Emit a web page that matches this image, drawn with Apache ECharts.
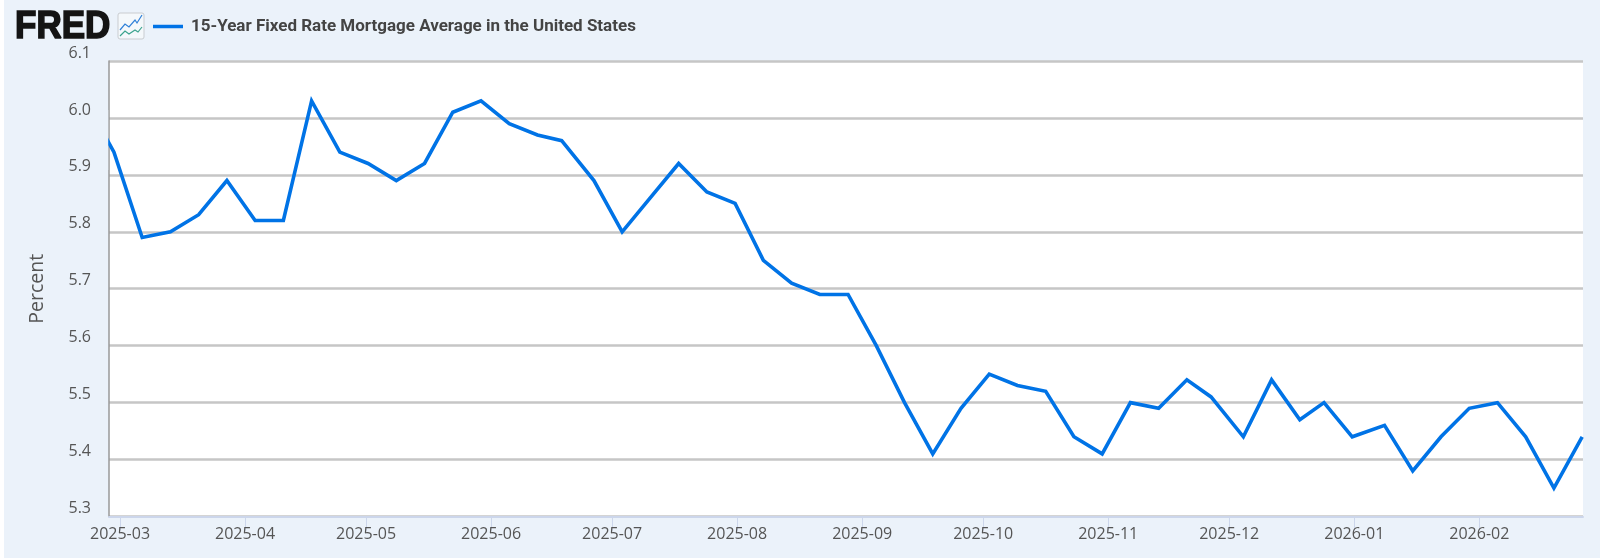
<!DOCTYPE html>
<html>
<head>
<meta charset="utf-8">
<style>html,body{margin:0;padding:0;background:#fff}#c{width:1600px;height:559px}</style>
<script src="https://cdn.jsdelivr.net/npm/echarts@6/dist/echarts.min.js"></script>
</head>
<body>
<div id="c"></div>
<script>
const seriesName = '15-Year Fixed Rate Mortgage Average in the United States';
const dates = [
 '2025-02-20','2025-02-27','2025-03-06','2025-03-13','2025-03-20','2025-03-27',
 '2025-04-03','2025-04-10','2025-04-17','2025-04-24','2025-05-01','2025-05-08',
 '2025-05-15','2025-05-22','2025-05-29','2025-06-05','2025-06-12','2025-06-18',
 '2025-06-26','2025-07-03','2025-07-10','2025-07-17','2025-07-24','2025-07-31',
 '2025-08-07','2025-08-14','2025-08-21','2025-08-28','2025-09-04','2025-09-11',
 '2025-09-18','2025-09-25','2025-10-02','2025-10-09','2025-10-16','2025-10-23',
 '2025-10-30','2025-11-06','2025-11-13','2025-11-20','2025-11-26','2025-12-04',
 '2025-12-11','2025-12-18','2025-12-24','2025-12-31','2026-01-08','2026-01-15',
 '2026-01-22','2026-01-29','2026-02-05','2026-02-12','2026-02-19','2026-02-26'
];
const rates = [
 6.03,5.94,5.79,5.80,5.83,5.89,
 5.82,5.82,6.03,5.94,5.92,5.89,
 5.92,6.01,6.03,5.99,5.97,5.96,
 5.89,5.80,5.86,5.92,5.87,5.85,
 5.75,5.71,5.69,5.69,5.60,5.50,
 5.41,5.49,5.55,5.53,5.52,5.44,
 5.41,5.50,5.49,5.54,5.51,5.44,
 5.54,5.47,5.50,5.44,5.46,5.38,
 5.44,5.49,5.50,5.44,5.35,5.44
];
const monthTicks = ['2025-03-01','2025-04-01','2025-05-01','2025-06-01','2025-07-01','2025-08-01',
 '2025-09-01','2025-10-01','2025-11-01','2025-12-01','2026-01-01','2026-02-01'];
const axisStart = '2025-02-26T06:30:00Z';
const axisEnd = '2026-02-26T17:00:00Z';

const t = s => Date.parse(s + 'T00:00:00Z');
const font = '"Open Sans", sans-serif';
const chart = echarts.init(document.getElementById('c'), null, {renderer:'canvas'});
chart.setOption({
  animation:false,
  backgroundColor:'#ffffff',
  legend:{
    left:153, top:18, padding:0, icon:'rect', itemWidth:30, itemHeight:3.5, itemGap:0,
    textStyle:{fontFamily:'Roboto, sans-serif', fontWeight:'bold', fontSize:17, color:'#444', padding:[0,0,0,3]},
    data:[seriesName]
  },
  grid:{left:109, right:17, top:61, height:455.5, show:true, backgroundColor:'#ffffff', borderWidth:0},
  xAxis:{
    type:'value', scale:true,
    min:Date.parse(axisStart), max:Date.parse(axisEnd),
    axisLine:{show:true, lineStyle:{color:'#ccd6eb', width:2}},
    axisTick:{show:true, length:14, customValues:monthTicks.map(t), lineStyle:{color:'#ccd6eb', width:1}},
    axisLabel:{
      customValues:monthTicks.map(t), margin:10, fontFamily:font, fontSize:16, color:'#555', hideOverlap:false,
      formatter:v => new Date(v).toISOString().slice(0,7)
    },
    splitLine:{show:false}
  },
  yAxis:{
    type:'value', min:5.3, max:6.1, interval:0.1,
    name:'Percent', nameLocation:'middle', nameGap:62, nameRotate:90,
    nameTextStyle:{fontFamily:font, fontSize:19.5, color:'#555'},
    axisLine:{show:true, lineStyle:{color:'#999', width:1.5}},
    axisTick:{show:false},
    axisLabel:{margin:18, fontFamily:font, fontSize:16, color:'#555', verticalAlign:'bottom', lineHeight:16,
      formatter:v => v.toFixed(1)},
    splitLine:{show:true, lineStyle:{color:'#c6c6c6', width:2.5}}
  },
  graphic:[
    {type:'rect', z:-10, silent:true, shape:{x:4,y:0,width:1596,height:558}, style:{fill:'#ebf2fa'}},
    {type:'rect', z:50, silent:true, shape:{x:103,y:110,width:5.2,height:60}, style:{fill:'#ebf2fa'}},
    {type:'text', x:15, y:8.5, scaleX:1, scaleY:1.1, z:5, silent:true, style:{text:'FRED', fontFamily:'"Liberation Sans", sans-serif', fontWeight:'bold', fontSize:35, fill:'#141414', stroke:'#141414', lineWidth:1.5}},
    {type:'rect', z:5, silent:true, shape:{x:118,y:13,width:26,height:26,r:2}, style:{fill:'#f4f8fb', stroke:'#c9ccd0', lineWidth:1}},
    {type:'polyline', z:6, silent:true, shape:{points:[[120,30],[125,24],[129,27],[135,20],[137,23],[142,15]]}, style:{fill:'none', stroke:'#2f80d8', lineWidth:1.2}},
    {type:'polyline', z:6, silent:true, shape:{points:[[120,36],[125,31],[129,34],[135,30],[138,32],[142,27]]}, style:{fill:'none', stroke:'#3aa38d', lineWidth:1.2}}
  ],
  series:[{
    name:seriesName, type:'line', showSymbol:false, symbol:'none', clip:true,
    lineStyle:{color:'#0073e6', width:3.6, join:'miter'},
    itemStyle:{color:'#0073e6'},
    data:dates.map((d,i)=>[Date.parse(d+'T12:00:00Z'), rates[i]])
  }]
});
</script>
</body>
</html>
